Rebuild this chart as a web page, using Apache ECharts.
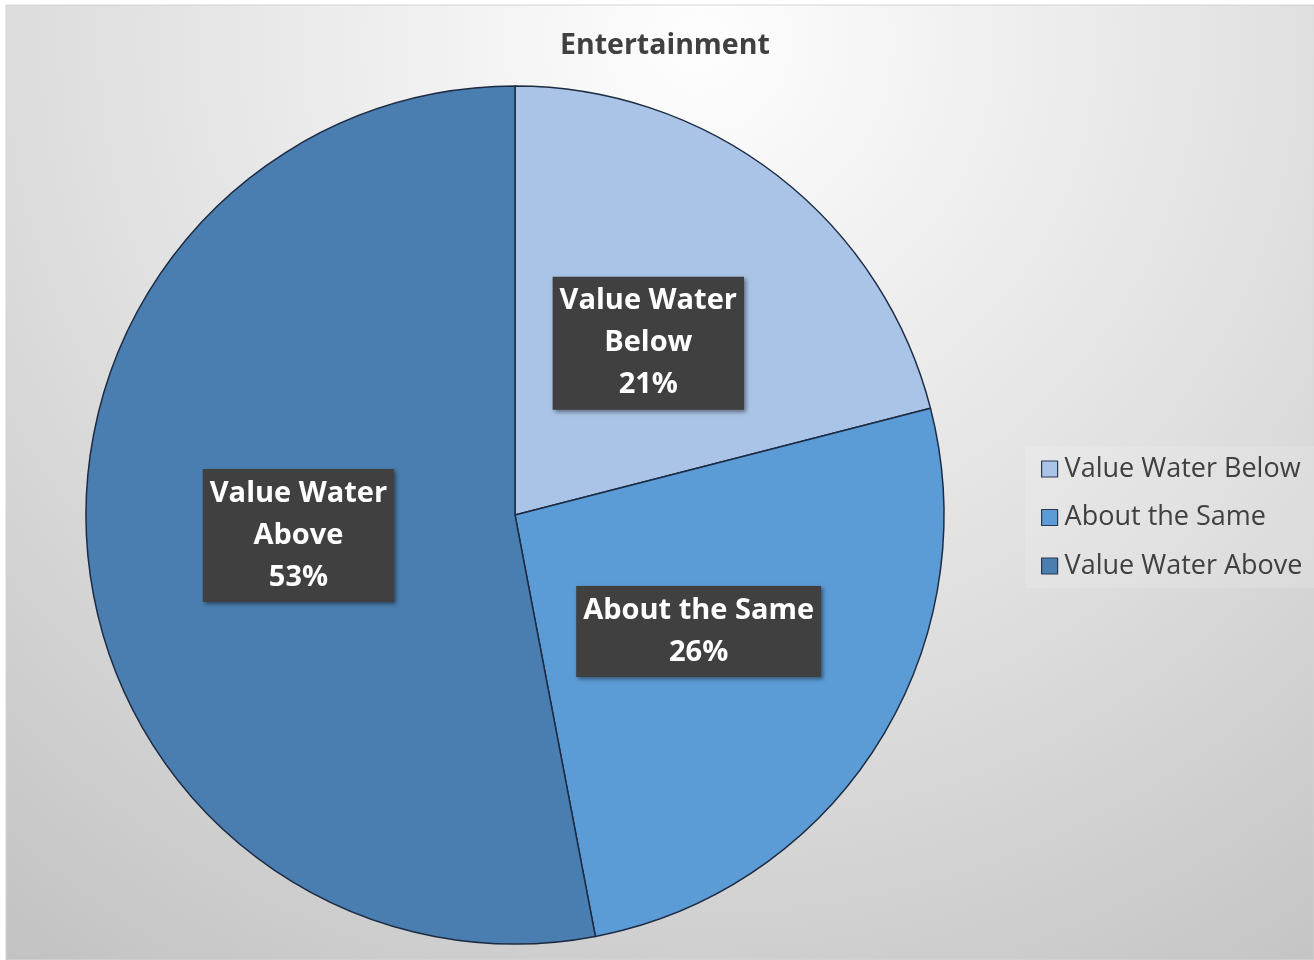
<!DOCTYPE html>
<html>
<head>
<meta charset="utf-8">
<title>Entertainment</title>
<script src="https://cdn.jsdelivr.net/npm/echarts@6/dist/echarts.min.js"></script>
<style>
  html, body { margin: 0; padding: 0; background: #ffffff; }
  #chart { width: 1314px; height: 960px; }
</style>
</head>
<body>
<div id="chart"></div>
<script>
// Survey answers for the Entertainment category
const categories = ['Value Water Below', 'About the Same', 'Value Water Above'];
const shares = [21, 26, 53];
const sliceColors = ['#a9c4e6', '#5b9bd6', '#4a7eb1'];

const chart = echarts.init(document.getElementById('chart'));

const FONT = '"Open Sans", "DejaVu Sans", sans-serif';

chart.setOption({
  animation: false,
  graphic: [{
    type: 'rect',
    z: -10,
    shape: { x: 6, y: 5, width: 1308, height: 955 },
    style: {
      fill: {
        type: 'radial', x: 0.53, y: 0.04, r: 1.2,
        colorStops: [
          { offset: 0, color: '#fefefe' },
          { offset: 0.55, color: '#dfdfdf' },
          { offset: 1, color: '#c2c2c2' }
        ]
      },
      stroke: '#d4d4d4',
      lineWidth: 1
    }
  }],
  title: {
    text: 'Entertainment',
    left: 555,
    top: 26,
    textStyle: { fontFamily: FONT, fontWeight: 'bold', fontSize: 28.5, color: '#404040' }
  },
  legend: {
    orient: 'vertical',
    left: 1025,
    top: 446,
    padding: [8, 20, 7, 16],
    backgroundColor: 'rgba(255,255,255,0.15)',
    itemWidth: 16,
    itemHeight: 16,
    itemGap: 18.5,
    icon: 'rect',
    data: categories,
    itemStyle: { borderColor: '#2a3950', borderWidth: 1.2 },
    textStyle: { fontFamily: FONT, fontSize: 27, color: '#404040', lineHeight: 30, padding: [0, 0, 0, 2] }
  },
  series: [{
    type: 'pie',
    center: [515, 515],
    radius: 429,
    startAngle: 90,
    clockwise: true,
    emphasis: { disabled: true },
    itemStyle: { borderColor: '#1d2b42', borderWidth: 1.5 },
    label: {
      show: true,
      position: 'inside',
      formatter: p => p.name.replace(/^(Value Water) /, '$1\n') + '\n' + Math.round(p.percent) + '%',
      fontFamily: FONT,
      fontWeight: 'bold',
      fontSize: 29,
      lineHeight: 42,
      color: '#ffffff',
      align: 'center',
      backgroundColor: '#404040',
      padding: [7, 7, 0, 7],
      shadowColor: 'rgba(0,0,0,0.45)',
      shadowBlur: 4,
      shadowOffsetX: 2,
      shadowOffsetY: 2
    },
    labelLine: { show: false },
    data: categories.map((name, i) => ({
      name,
      value: shares[i],
      itemStyle: { color: sliceColors[i] }
    }))
  }]
});
</script>
</body>
</html>
